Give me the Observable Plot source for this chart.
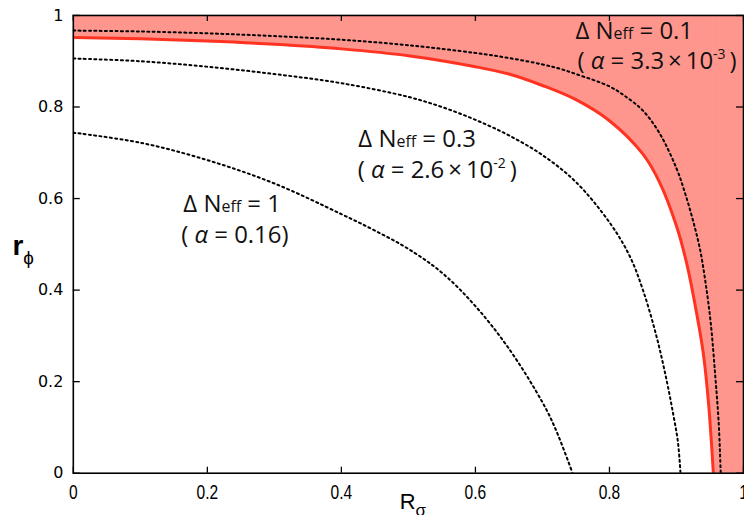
<!DOCTYPE html>
<html><head><meta charset="utf-8">
<script src="https://cdn.jsdelivr.net/npm/d3@7"></script>
<script src="https://cdn.jsdelivr.net/npm/@observablehq/plot@0.6"></script>
<style>html,body{margin:0;padding:0;overflow:hidden;background:#fff}</style>
</head><body><div id="chart"></div>
<script>
// Bound curve (red, edge of the ΔNeff = 0.1 region)
const boundX = [0, 0.1, 0.2, 0.3, 0.4, 0.5, 0.6, 0.65, 0.7, 0.75, 0.8, 0.85, 0.875, 0.9, 0.915, 0.93, 0.94, 0.948, 0.955];
const boundY = [0.952, 0.949, 0.944, 0.937, 0.927, 0.912, 0.888, 0.872, 0.847, 0.816, 0.770, 0.697, 0.635, 0.540, 0.460, 0.350, 0.262, 0.150, 0];
// Dotted contours
const n01X = [0, 0.1, 0.2, 0.3, 0.4, 0.5, 0.6, 0.65, 0.7, 0.725, 0.75, 0.8, 0.825, 0.85, 0.875, 0.9, 0.913, 0.925, 0.935, 0.943, 0.951, 0.958, 0.963, 0.966];
const n01Y = [0.967, 0.965, 0.961, 0.955, 0.947, 0.935, 0.918, 0.907, 0.893, 0.884, 0.872, 0.845, 0.822, 0.792, 0.742, 0.666, 0.611, 0.550, 0.490, 0.420, 0.330, 0.210, 0.110, 0];
const n03X = [0, 0.1, 0.2, 0.3, 0.4, 0.5, 0.55, 0.6, 0.65, 0.7, 0.75, 0.8, 0.83, 0.85, 0.87, 0.885, 0.895, 0.902, 0.906];
const n03Y = [0.906, 0.900, 0.888, 0.872, 0.852, 0.822, 0.800, 0.772, 0.738, 0.695, 0.636, 0.548, 0.475, 0.400, 0.300, 0.205, 0.130, 0.070, 0];
const n1X = [0, 0.1, 0.2, 0.3, 0.4, 0.45, 0.5, 0.55, 0.6, 0.65, 0.7, 0.72, 0.745];
const n1Y = [0.744, 0.722, 0.684, 0.633, 0.566, 0.530, 0.490, 0.438, 0.365, 0.272, 0.155, 0.095, 0];

const xTicks = [0, 0.2, 0.4, 0.6, 0.8, 1];
const xTickLabels = ["0", "0.2", "0.4", "0.6", "0.8", "1"];
const yTicks = [0, 0.2, 0.4, 0.6, 0.8, 1];
const yTickLabels = ["0", "0.2", "0.4", "0.6", "0.8", "1"];

const neffValues = ["0.1", "0.3", "1"];
const alphaValues = ["3.3×10^-3", "2.6×10^-2", "0.16"];
const neffLabelX = [0.837, 0.513, 0.237];
const neffLabelY = [0.949, 0.713, 0.571];
const alphaLabelX = [0.871, 0.543, 0.241];
const alphaLabelY = [0.884, 0.644, 0.503];

const xLabel = "R_σ";
const yLabel = "r_ϕ";

const W = 746, H = 516, mL = 73, mR = 1, mT = 15, mB = 42;
const plotW = W - mL - mR, plotH = H - mT - mB;

const toPts = (xs, ys) => xs.map((x, i) => ({x, y: ys[i]}));
const bound = toPts(boundX, boundY);
const curves = [toPts(n01X, n01Y), toPts(n03X, n03Y), toPts(n1X, n1Y)];

const annFont = "'Open Sans', 'Noto Sans', sans-serif";
const xTickFont = "'Liberation Sans', Helvetica, sans-serif";
const CURVE = "catmull-rom";
const FILL = "#ff968d";

const marks = [
  Plot.areaY(bound, {x: "x", y1: "y", y2: () => 1, fill: FILL, curve: CURVE, clip: true}),
  Plot.rect([{x1: boundX[boundX.length - 1], x2: 1, y1: 0, y2: 1}], {x1: "x1", x2: "x2", y1: "y1", y2: "y2", fill: FILL, stroke: FILL, strokeWidth: 1.2, clip: true}),
  ...curves.map(c => Plot.line(c, {x: "x", y: "y", stroke: "#000", strokeWidth: 2, strokeDasharray: "2,3.3", curve: CURVE, clip: true})),
  Plot.line(bound, {x: "x", y: "y", stroke: "#ff3322", strokeWidth: 3, curve: CURVE, clip: true}),
  Plot.tickX(xTicks, {x: d => d, insetTop: plotH - 6, stroke: "#000", strokeWidth: 1.3}),
  Plot.tickX(xTicks, {x: d => d, insetBottom: plotH - 6, stroke: "#000", strokeWidth: 1.3}),
  Plot.tickY(yTicks, {y: d => d, insetRight: plotW - 7, stroke: "#000", strokeWidth: 1.3}),
  Plot.tickY(yTicks, {y: d => d, insetLeft: plotW - 7, stroke: "#000", strokeWidth: 1.3}),
  Plot.frame({stroke: "#000", strokeWidth: 1.6}),
  Plot.text(xTicks, {x: d => d, text: (d, i) => xTickLabels[i], frameAnchor: "bottom", dy: 19, lineAnchor: "middle",
    fontSize: 20, fontFamily: xTickFont, fill: "#000"}),
  Plot.text(yTicks, {y: d => d, text: (d, i) => yTickLabels[i], frameAnchor: "left", dx: -10, textAnchor: "end", lineAnchor: "middle",
    fontSize: 16, fontFamily: "'DejaVu Sans', sans-serif", fill: "#000"}),
  Plot.text(neffValues, {x: (d, i) => neffLabelX[i], y: (d, i) => neffLabelY[i], text: d => "ΔNeff = " + d,
    lineAnchor: "bottom", fontSize: 24, fontFamily: annFont, fill: "#111"}),
  Plot.text(alphaValues, {x: (d, i) => alphaLabelX[i], y: (d, i) => alphaLabelY[i], text: d => "(α = " + d + ")",
    lineAnchor: "bottom", fontSize: 24, fontFamily: annFont, fill: "#111"}),
  Plot.text([xLabel], {x: 0.487, frameAnchor: "bottom", dy: 36, lineAnchor: "bottom", textAnchor: "start", text: d => d,
    fontSize: 22, fontFamily: "'Liberation Sans', Arial, sans-serif", fill: "#000"}),
  Plot.text([yLabel], {y: 0.477, frameAnchor: "left", dx: -61, lineAnchor: "bottom", textAnchor: "start", text: d => d,
    fontSize: 28, fontWeight: "bold", fontFamily: "'Liberation Sans', Arial, sans-serif", fill: "#000"})
];

const svg = Plot.plot({
  width: W, height: H,
  marginLeft: mL, marginRight: mR, marginTop: mT, marginBottom: mB,
  x: {domain: [0, 1], axis: null},
  y: {domain: [0, 1], axis: null},
  style: {background: "#fff", overflow: "visible"},
  marks
});

const NS = "http://www.w3.org/2000/svg";
function span(el, txt, attrs = {}) {
  const t = document.createElementNS(NS, "tspan");
  for (const [k, v] of Object.entries(attrs)) t.setAttribute(k, v);
  t.textContent = txt;
  el.appendChild(t);
  return t;
}
d3.select(svg).selectAll("text").each(function() {
  const s = this.textContent;
  if (s.startsWith("ΔNeff = ")) {
    const v = s.slice(8);
    this.textContent = "";
    span(this, "Δ N");
    span(this, "eff", {"font-size": 16});
    span(this, " = " + v);
  } else if (s.startsWith("(α = ")) {
    const v = s.slice(5, -1);
    this.textContent = "";
    span(this, "( ");
    span(this, "α", {"font-style": "italic"});
    if (v.includes("^")) {
      const [b, e] = v.split("^");
      span(this, " = " + b.replace("×", "\u2009×\u2009"));
      span(this, e, {"font-size": 14, dy: -10});
      span(this, "\u2009)", {dy: 10});
    } else {
      span(this, " = " + v + ")");
    }
  } else if (s === xLabel) {
    const [a, b] = s.split("_");
    this.textContent = "";
    span(this, a);
    span(this, b, {"font-size": 17, dy: 7});
  } else if (s === yLabel) {
    const [a, b] = s.split("_");
    this.textContent = "";
    span(this, a);
    span(this, b, {"font-size": 19, "font-weight": "normal", dy: 9});
  }
});
// condense the x tick labels (the reference uses a narrow face)
d3.select(svg).selectAll("g").filter(function() { return this.getAttribute("font-family") === xTickFont; })
  .selectAll("text")
  .attr("transform", function() { return (this.getAttribute("transform") || "") + " scale(0.78,1)"; });
document.getElementById("chart").appendChild(svg);
</script>
</body></html>
